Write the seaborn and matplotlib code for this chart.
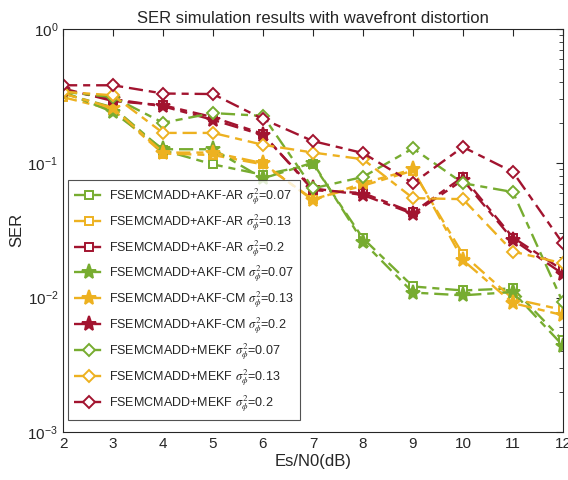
import numpy as np
import pandas as pd
import matplotlib
matplotlib.use("Agg")
import matplotlib.pyplot as plt
import seaborn as sns

# ----------------------------
# DATA
# ----------------------------
snr = [2, 3, 4, 5, 6, 7, 8, 9, 10, 11, 12]

ar_007 = [0.33, 0.26, 0.125, 0.098, 0.082, 0.098, 0.0276, 0.0121, 0.0113, 0.0117, 0.0048]
ar_013 = [0.31, 0.25, 0.118, 0.115, 0.098, 0.054, 0.068, 0.088, 0.021, 0.0098, 0.0081]
ar_02 = [0.36, 0.29, 0.27, 0.22, 0.165, 0.063, 0.060, 0.043, 0.079, 0.028, 0.016]
cm_007 = [0.34, 0.24, 0.127, 0.127, 0.077, 0.101, 0.026, 0.0109, 0.0104, 0.011, 0.0044]
cm_013 = [0.33, 0.257, 0.12, 0.12, 0.10, 0.053, 0.071, 0.090, 0.019, 0.0091, 0.0074]
cm_02 = [0.35, 0.30, 0.265, 0.21, 0.162, 0.065, 0.058, 0.042, 0.075, 0.027, 0.015]
mekf_007 = [0.34, 0.31, 0.20, 0.236, 0.225, 0.065, 0.079, 0.129, 0.071, 0.061, 0.0092]
mekf_013 = [0.34, 0.32, 0.168, 0.168, 0.137, 0.12, 0.107, 0.055, 0.054, 0.022, 0.018]
mekf_02 = [0.38, 0.38, 0.33, 0.327, 0.213, 0.146, 0.119, 0.071, 0.132, 0.086, 0.0253]

labels = [
    r"FSEMCMADD+AKF-AR $\sigma_\phi^2$=0.07",
    r"FSEMCMADD+AKF-AR $\sigma_\phi^2$=0.13",
    r"FSEMCMADD+AKF-AR $\sigma_\phi^2$=0.2",
    r"FSEMCMADD+AKF-CM $\sigma_\phi^2$=0.07",
    r"FSEMCMADD+AKF-CM $\sigma_\phi^2$=0.13",
    r"FSEMCMADD+AKF-CM $\sigma_\phi^2$=0.2",
    r"FSEMCMADD+MEKF $\sigma_\phi^2$=0.07",
    r"FSEMCMADD+MEKF $\sigma_\phi^2$=0.13",
    r"FSEMCMADD+MEKF $\sigma_\phi^2$=0.2",
]
series = [ar_007, ar_013, ar_02, cm_007, cm_013, cm_02, mekf_007, mekf_013, mekf_02]

green = "#77AC30"
yellow = "#EDB120"
maroon = "#A2142F"
colors = [green, yellow, maroon] * 3
markers = ["s"] * 3 + ["*"] * 3 + ["D"] * 3
msizes = [6] * 3 + [11] * 3 + [6] * 3

# ----------------------------
# PLOT
# ----------------------------
sns.set_style("white")
plt.rcParams["font.family"] = ["Liberation Sans", "DejaVu Sans"]
plt.rcParams["mathtext.fontset"] = "stix"

fig = plt.figure(figsize=(5.68, 4.8), dpi=100)
ax = fig.add_axes([0.111, 0.10, 0.880, 0.840])

for i in range(len(series)):
    df = pd.DataFrame({"snr": snr, "ser": series[i]})
    filled = markers[i] == "*"
    sns.lineplot(data=df, x="snr", y="ser", ax=ax, color=colors[i],
                 linewidth=1.7, dashes=False, marker=markers[i],
                 markersize=msizes[i], markeredgewidth=1.4,
                 markerfacecolor=colors[i] if filled else "white",
                 markeredgecolor=colors[i], label=labels[i])
    ax.lines[-1].set_dashes([6, 2.5, 3, 2.5])

ax.set_yscale("log")
ax.set_xlim(2, 12)
ax.set_ylim(1e-3, 1)
ax.set_xticks(range(2, 13))
ax.tick_params(axis="both", which="both", direction="in", top=True, right=True,
               labelsize=11, colors="#262626")
ax.tick_params(which="major", length=5)
ax.tick_params(which="minor", length=3)
for s in ax.spines.values():
    s.set_color("#262626")
    s.set_linewidth(0.8)

ax.set_title("SER simulation results with wavefront distortion", fontsize=12, pad=4)
ax.set_xlabel("Es/N0(dB)", fontsize=12, labelpad=2)
ax.set_ylabel("SER", fontsize=12, labelpad=2)

leg = ax.legend(loc="lower left", bbox_to_anchor=(0.01, 0.03), borderaxespad=0,
                fontsize=9, handlelength=2.3, handletextpad=0.45,
                labelspacing=0.42, borderpad=0.5, frameon=True,
                fancybox=False, edgecolor="#262626")
leg.get_frame().set_linewidth(0.8)

plt.savefig("out.png", dpi=100)
